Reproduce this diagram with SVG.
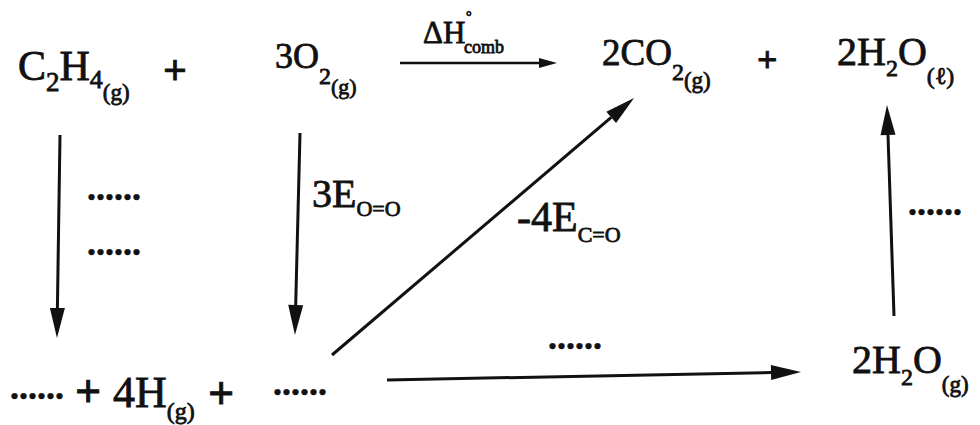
<svg xmlns="http://www.w3.org/2000/svg" width="980" height="425" viewBox="0 0 980 425">
<style>
text{font-family:"Liberation Serif","Times New Roman",serif;fill:#111;stroke:#111;stroke-width:0.8}
.dots{font-weight:bold;font-size:36px;stroke-width:0.5}
.plus{font-weight:bold}
.edge{stroke:#111;stroke-width:3;fill:none;stroke-linecap:butt}
.edge2{stroke:#111;stroke-width:2.5;fill:none}
</style>
<defs>
<marker id="ah" markerUnits="userSpaceOnUse" markerWidth="32" markerHeight="16" refX="0" refY="7.5" orient="auto" overflow="visible">
<path d="M0,0 L30,7.5 L0,15 Z" fill="#111"/>
</marker>
<marker id="ahs" markerUnits="userSpaceOnUse" markerWidth="20" markerHeight="12" refX="0" refY="5" orient="auto" overflow="visible">
<path d="M0,0 L18,5 L0,10 Z" fill="#111"/>
</marker>
</defs>
<rect width="980" height="425" fill="#fff"/>

<g id="connectors">
<path class="edge" d="M60,135 L57.4,308" marker-end="url(#ah)"/>
<path class="edge" d="M300,133 L295.7,305" marker-end="url(#ah)"/>
<path class="edge" d="M332,355 L611.2,117.4" marker-end="url(#ah)"/>
<path class="edge" d="M894,316 L888,135" marker-end="url(#ah)"/>
<path class="edge" d="M387,380 L771,372.5" marker-end="url(#ah)"/>
<path class="edge2" d="M400,63 L539,63" marker-end="url(#ahs)"/>
</g>

<g id="node-c2h4">
<text x="18" y="80" font-size="42">C<tspan y="91" font-size="27">2</tspan><tspan y="80" font-size="42">H</tspan><tspan y="88" font-size="26">4</tspan><tspan y="100" font-size="23">(g)</tspan></text>
</g>
<g id="plus-1"><text class="plus" x="163" y="84" font-size="42">+</text></g>
<g id="node-o2">
<text x="275" y="68" font-size="36">3O<tspan y="84" font-size="24">2</tspan><tspan y="94" font-size="22">(g)</tspan></text>
</g>
<g id="label-dh">
<text x="423" y="43" font-size="31">ΔH</text>
<text x="466" y="21" font-size="14">°</text>
<text x="464" y="53" font-size="18">comb</text>
</g>
<g id="node-co2">
<text x="602" y="65" font-size="37">2CO<tspan y="80" font-size="24">2</tspan><tspan y="88" font-size="23">(g)</tspan></text>
</g>
<g id="plus-2"><text class="plus" x="757" y="72" font-size="36">+</text></g>
<g id="node-h2o-l">
<text x="837" y="65" font-size="40">2H<tspan y="76" font-size="24">2</tspan><tspan y="65" font-size="40">O</tspan><tspan y="84" font-size="24">(ℓ)</tspan></text>
</g>

<g id="label-left">
<text class="dots" x="87" y="200">......</text>
<text class="dots" x="87" y="255">......</text>
</g>
<g id="label-o2">
<text x="312" y="207" font-size="40">3E<tspan y="216" font-size="22">O=O</tspan></text>
</g>
<g id="label-co">
<text x="517" y="231" font-size="42">-4E<tspan y="242" font-size="22">C=O</tspan></text>
</g>
<g id="label-right"><text class="dots" x="908" y="215">......</text></g>
<g id="label-bottom"><text class="dots" x="548" y="349">......</text></g>

<g id="node-atoms">
<text class="dots" x="10" y="399">......</text>
<text class="plus" x="75" y="407" font-size="46">+</text>
<text x="113" y="407" font-size="44">4H<tspan y="419" font-size="24">(g)</tspan></text>
<text class="plus" x="208" y="409" font-size="46">+</text>
<text class="dots" x="273" y="395">......</text>
</g>
<g id="node-h2o-g">
<text x="852" y="373" font-size="40">2H<tspan y="385" font-size="24">2</tspan><tspan y="373" font-size="40">O</tspan><tspan y="392" font-size="23">(g)</tspan></text>
</g>
</svg>
